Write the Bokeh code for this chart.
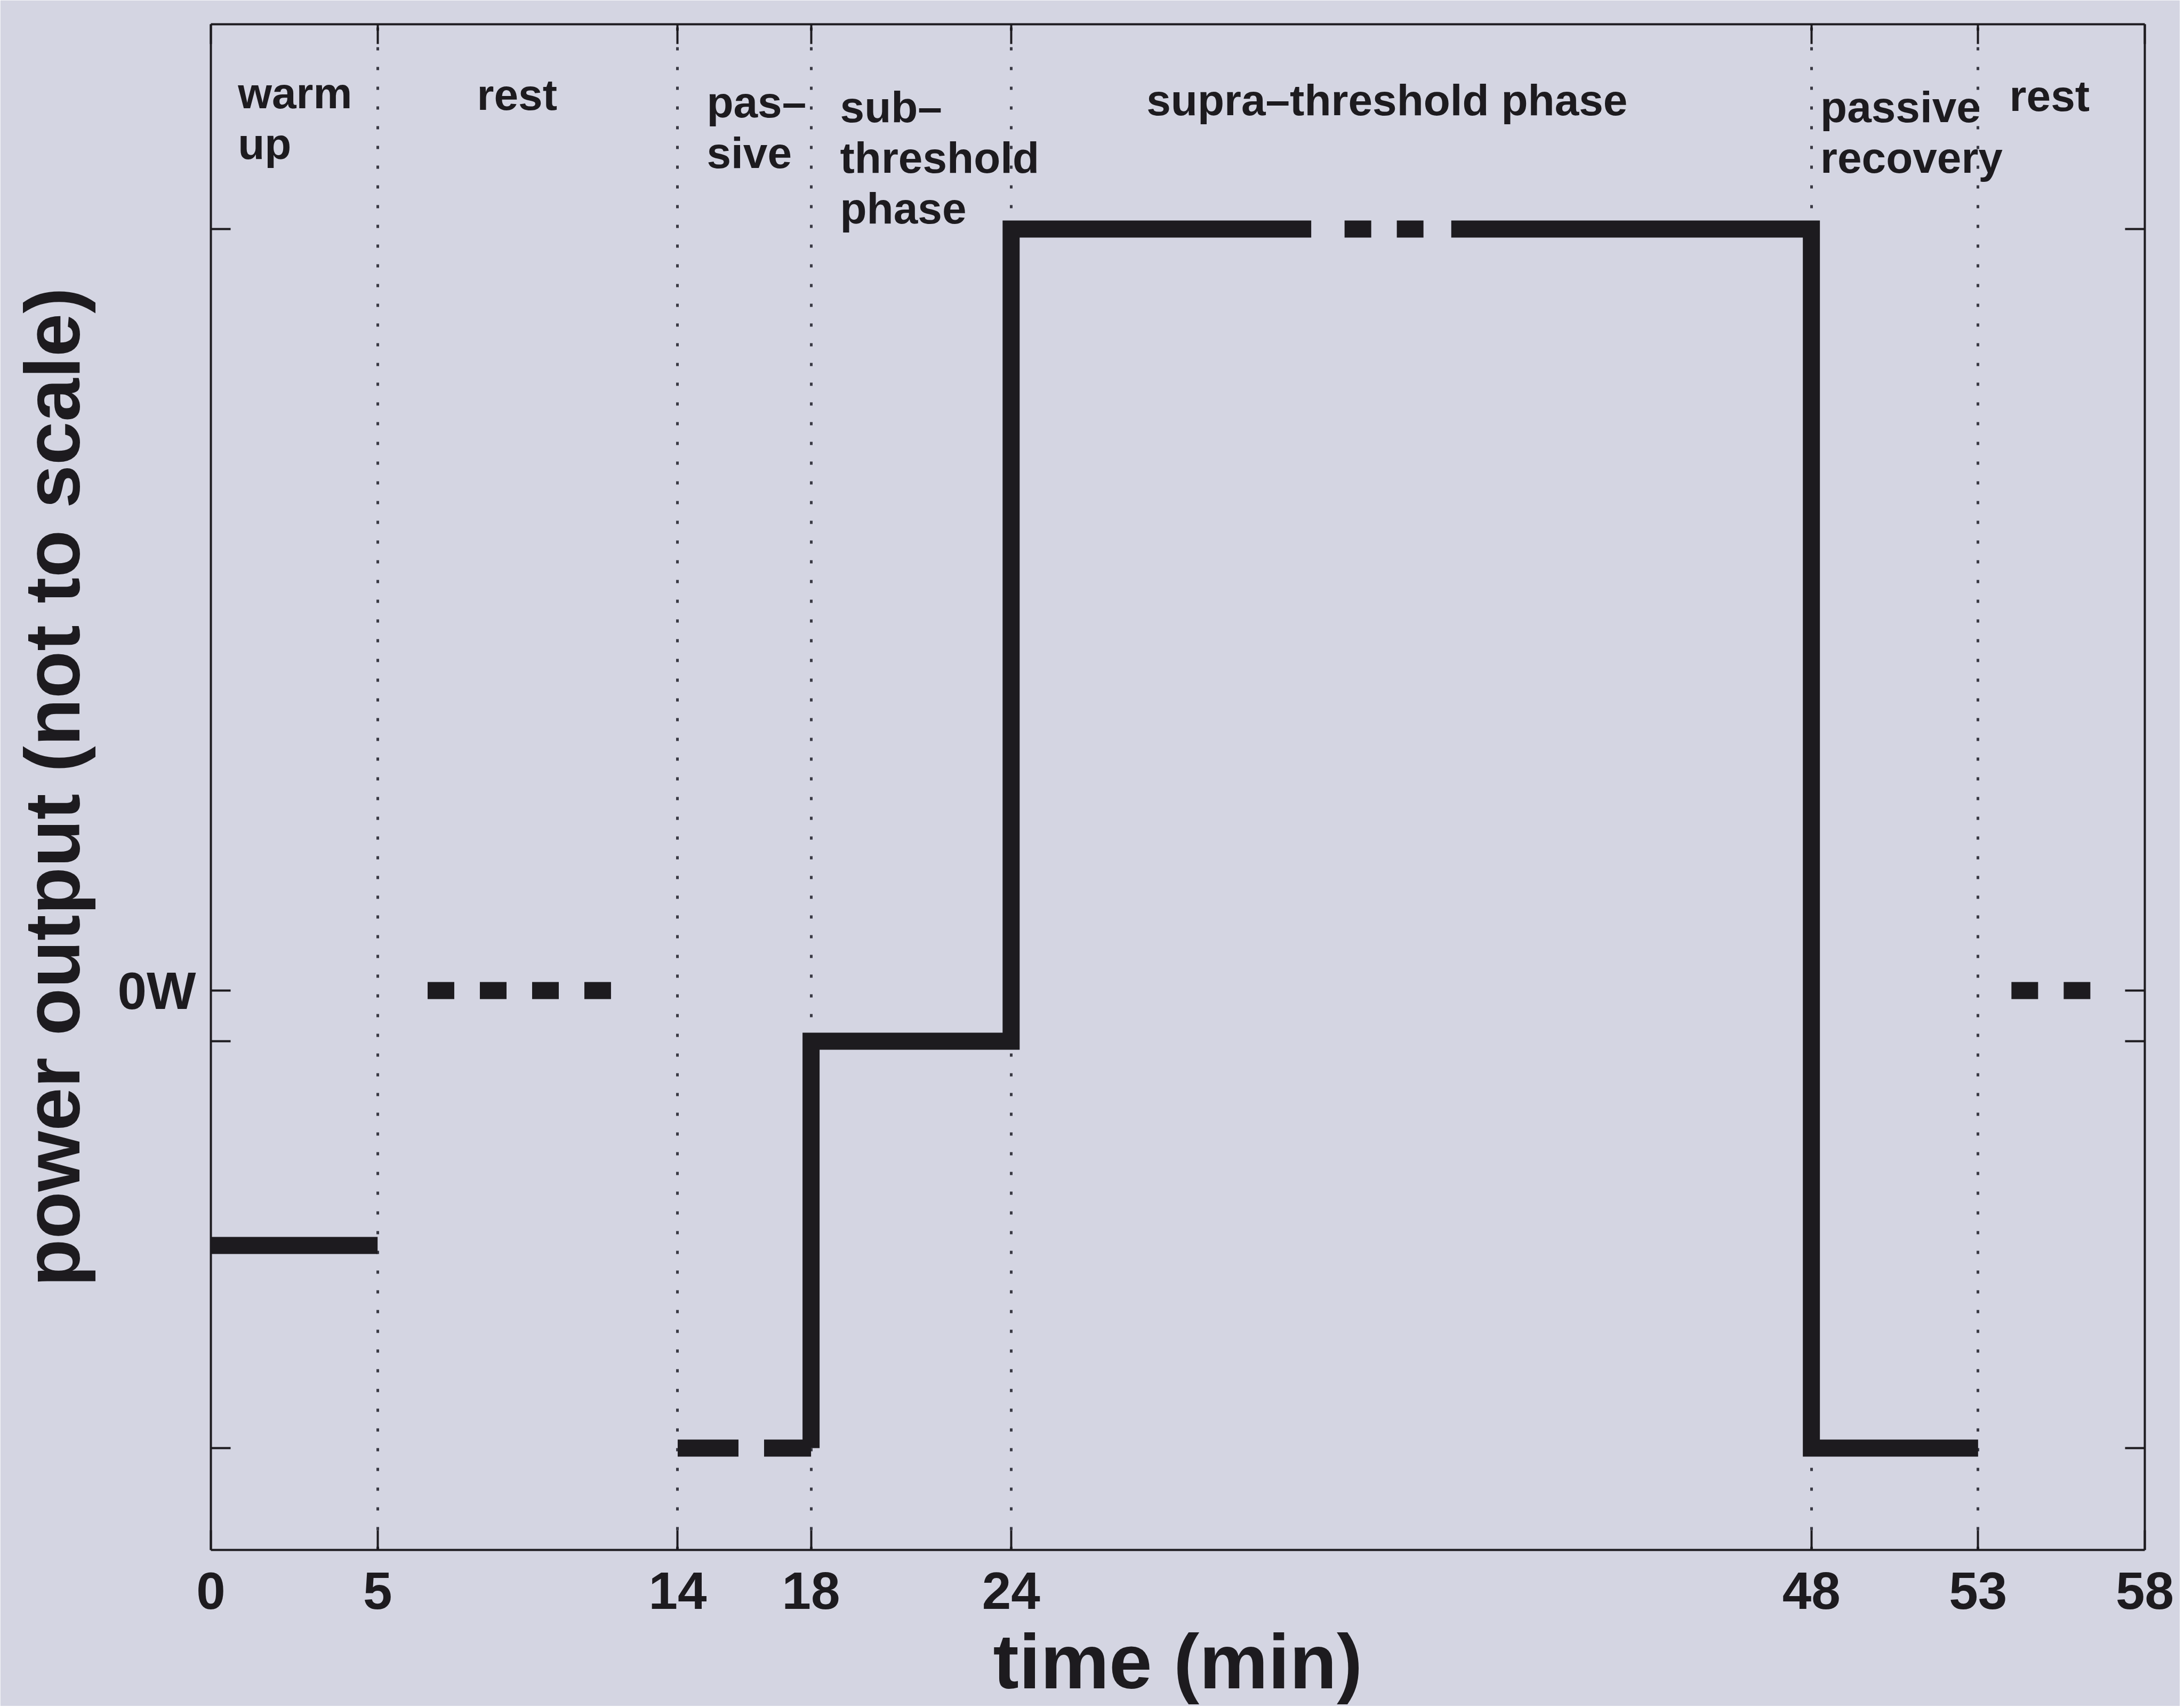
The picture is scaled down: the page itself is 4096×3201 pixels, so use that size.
from bokeh.plotting import figure
from bokeh.models import Range1d, FixedTicker, LinearAxis, CustomJSTickFormatter, ColumnDataSource
from bokeh.core.properties import value
from bokeh.embed import file_html
from bokeh.resources import INLINE

# ---------------- data ----------------
x_ticks = [0, 5, 14, 18, 24, 48, 53, 58]          # time (min) tick labels
phase_bounds = [5, 14, 18, 24, 48, 53]             # dotted phase separators

# power levels, arbitrary units relative to 0 W (not to scale)
level_supra = 142.8
level_zero = 0.0
level_sub = -9.5
level_warm = -47.8
level_passive = -85.8
y_min, y_max = -104.9, 181.2
y_minor = [level_passive, level_sub, level_supra]
y_ticks = [level_passive, level_sub, level_zero, level_supra]

warm_x = [0, 5]
warm_y = [level_warm, level_warm]
rest1_x = [6.5, 12.0]
rest1_y = [level_zero, level_zero]
passive_x = [14, 18]
passive_y = [level_passive, level_passive]
main1_x = [18, 18, 24, 24, 33.0]
main1_y = [level_passive, level_sub, level_sub, level_supra, level_supra]
break_x = [34.0, 36.4]
break_y = [level_supra, level_supra]
main2_x = [37.2, 48, 48, 53]
main2_y = [level_supra, level_supra, level_passive, level_passive]
rest2_x = [54.0, 56.4]
rest2_y = [level_zero, level_zero]

label_text = ["warm", "up", "rest", "pas–", "sive", "sub–", "threshold", "phase",
              "supra–threshold phase", "passive", "recovery", "rest"]
label_x = [0.81, 0.81, 7.98, 14.87, 14.87, 18.87, 18.87, 18.87, 28.06, 48.27, 48.27, 53.94]
label_top = [168.3, 168.3, 168.0, 166.6, 166.6, 165.7, 165.7, 165.7, 167.0, 165.7, 165.7, 167.8]
label_line = [0, 1, 0, 0, 1, 0, 1, 2, 0, 0, 1, 0]
LINE_STEP = 9.5
label_y = [t - LINE_STEP * n for t, n in zip(label_top, label_line)]

# ---------------- style ----------------
BG = "#d4d5e2"
INK = "#1d1b1f"
FONT = "Liberation Sans"
LW = 32

p = figure(width=4088, height=3199,
           x_range=Range1d(x_ticks[0], x_ticks[-1]), y_range=Range1d(y_min, y_max),
           output_backend="svg", toolbar_location=None,
           min_border_left=395, min_border_right=66,
           min_border_top=45, min_border_bottom=293,
           background_fill_color=BG, border_fill_color=BG,
           outline_line_color=None)

def style_axis(ax):
    ax.axis_line_color = INK
    ax.axis_line_width = 4
    for kind in ("major", "minor"):
        setattr(ax, kind + "_tick_line_color", INK)
        setattr(ax, kind + "_tick_line_width", 4)
        setattr(ax, kind + "_tick_in", 37)
        setattr(ax, kind + "_tick_out", 0)
    ax.major_label_text_font = FONT
    ax.major_label_text_font_style = "bold"
    ax.major_label_text_color = INK
    ax.major_label_text_font_size = "98px"
    ax.axis_label_text_font = FONT
    ax.axis_label_text_font_style = "bold"
    ax.axis_label_text_font_size = "146px"
    ax.axis_label_text_color = INK

xa = p.xaxis[0]
xa.ticker = FixedTicker(ticks=x_ticks)
style_axis(xa)
xa.major_label_standoff = 42
xa.axis_label = "time (min)"
xa.axis_label_standoff = 15
xa.axis_label_text_font_size = "145px"

ya = p.yaxis[0]
ya.ticker = FixedTicker(ticks=[level_zero], minor_ticks=y_minor)
ya.formatter = CustomJSTickFormatter(code="return tick + 'W';")
style_axis(ya)
ya.major_label_standoff = 28
ya.axis_label = "power output (not to scale)"
ya.axis_label_standoff = 38

top = LinearAxis(ticker=FixedTicker(ticks=[], minor_ticks=x_ticks))
style_axis(top)
p.add_layout(top, "above")
right = LinearAxis(ticker=FixedTicker(ticks=[], minor_ticks=y_ticks))
style_axis(right)
p.add_layout(right, "right")

p.ygrid.visible = False
p.xgrid.ticker = FixedTicker(ticks=phase_bounds)
p.xgrid.grid_line_color = "#3a3a44"
p.xgrid.grid_line_width = 5
p.xgrid.grid_line_dash = "6 31"

# ---------------- marks ----------------
p.line(warm_x, warm_y, line_width=LW, line_color=INK, line_cap="butt")
p.line(rest1_x, rest1_y, line_width=LW, line_color=INK, line_cap="butt", line_dash="50 48")
p.line(passive_x, passive_y, line_width=LW, line_color=INK, line_cap="butt", line_dash="114 48")
p.line(main1_x, main1_y, line_width=LW, line_color=INK, line_cap="butt", line_join="miter")
p.line(break_x, break_y, line_width=LW, line_color=INK, line_cap="butt", line_dash="50 48")
p.line(main2_x, main2_y, line_width=LW, line_color=INK, line_cap="butt", line_join="miter")
p.line(rest2_x, rest2_y, line_width=LW, line_color=INK, line_cap="butt", line_dash="50 48")

src = ColumnDataSource(dict(x=label_x, y=label_y, text=label_text))
p.text(x="x", y="y", text="text", source=src,
       text_font=value(FONT), text_font_style="bold", text_font_size="82px",
       text_color=INK, text_align="left", text_baseline="alphabetic")

open("out.html", "w").write(file_html(p, INLINE))
